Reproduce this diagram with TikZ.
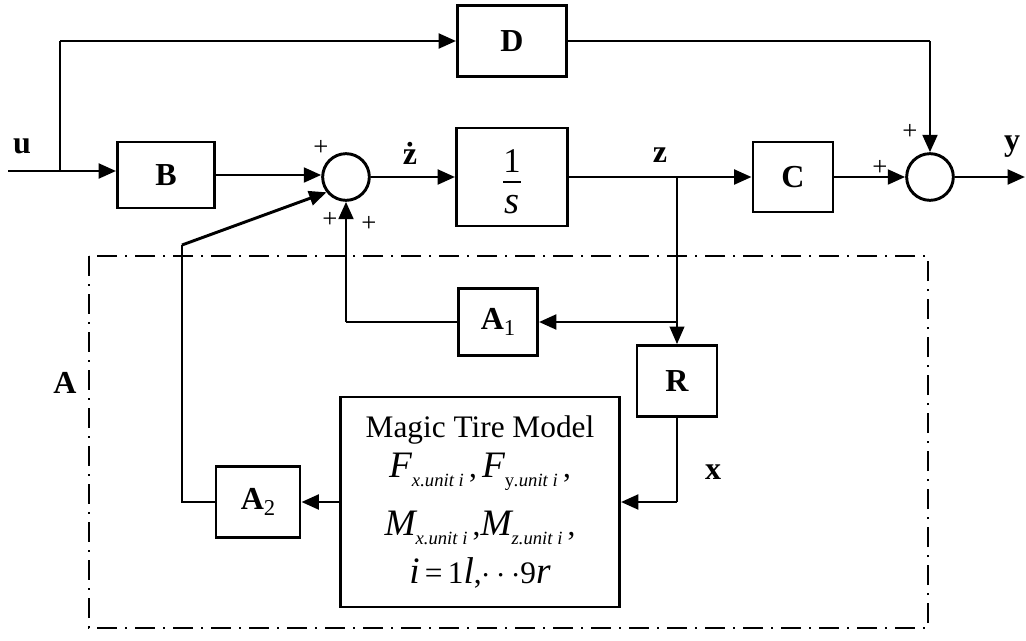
\documentclass[tikz,border=0pt]{standalone}
\usepackage{fontspec}
\setmainfont{Liberation Serif}
\usetikzlibrary{arrows.meta}

% subscript set lower and smaller, in italic
\newcommand{\lowsub}[1]{\raisebox{-7pt}{\fontsize{14}{16}\selectfont\itshape #1}}
\newcommand{\bigit}[1]{{\fontsize{28}{30}\selectfont\itshape #1}}

\begin{document}
\begin{tikzpicture}[x=0.75pt,y=-0.75pt,
  blk/.style={draw,line width=2.2pt,rectangle,inner sep=0pt,
              font=\fontsize{24}{28}\selectfont\bfseries},
  sumn/.style={draw,line width=2.2pt,circle,minimum size=35pt,inner sep=0pt},
  thk/.style={line width=2.2pt},
  thn/.style={line width=1.1pt},
  arr/.style={-{Triangle[length=13pt,width=11pt]}},
  sig/.style={font=\fontsize{24}{28}\selectfont\bfseries,inner sep=0pt},
  pls/.style={font=\fontsize{20}{22}\selectfont,inner sep=0pt},
  dashdot/.style={line width=2.1pt,dash pattern=on 15pt off 6pt on 1.5pt off 6pt}
]
\useasboundingbox (0,0) rectangle (1026,640);

% blocks
\node[blk,minimum width=81.75pt,minimum height=53.25pt] (D) at (512,41) {D};
\node[blk,minimum width=72.75pt,minimum height=49.5pt] (B) at (166,175) {B};
\node[sumn] (s1) at (346,177) {};
\node[blk,minimum width=83.25pt,minimum height=73.5pt] (I) at (512,177) {};
\node[blk,minimum width=60pt,minimum height=52.5pt] (C) at (793,177) {C};
\node[sumn] (s2) at (930,177) {};
\node[blk,minimum width=59.25pt,minimum height=50.25pt] (A1) at (498,322)
  {A{\mdseries\fontsize{17}{19}\selectfont\raisebox{-5pt}{1}}};
\node[blk,minimum width=60pt,minimum height=53.25pt] (R) at (677,381) {R};
\node[blk,minimum width=63pt,minimum height=53.25pt] (A2) at (258,502)
  {A{\mdseries\fontsize{17}{19}\selectfont\raisebox{-5pt}{2}}};
\node[blk,minimum width=209.25pt,minimum height=157.5pt,align=center,
      font=\fontsize{23.5}{28}\selectfont] (M) at (480,502)
  {Magic Tire Model\\[2pt]
   \bigit{F}\lowsub{x.unit i}\,,\,\bigit{F}\lowsub{\upshape y\itshape.unit i}\,,\\[14pt]
   \bigit{M}\lowsub{x.unit i}\,,\bigit{M}\lowsub{z.unit i}\,,\\[8pt]
   \bigit{i}\,=\,1\bigit{l},$\cdots$9\bigit{r}};

% fraction 1/s inside the integrator
\node[inner sep=0pt,font=\fontsize{26}{28}\selectfont] (one) at (512,161) {1};
\node[inner sep=0pt,font=\fontsize{29}{31}\selectfont\itshape] (ess) at (512,205) {s};
\draw[line width=1.4pt] (503,182) -- (521,182);

% dash-dot frame of subsystem A
\draw[dashdot] (89,256) rectangle (928,628);

% helper points
\coordinate (uin) at (8,171);
\coordinate (ub) at (60,171);
\coordinate (uc) at (60,41);
\coordinate (zb) at (677,177);
\coordinate (fb) at (182,245);
\coordinate (yout) at (1025,177);

% forward path
\draw[thk,arr] (uin) -- (B.west |- uin);
\draw[thn] (ub) -- (uc);
\draw[thk,arr] (uc) -- (D.west);
\draw[thk,arr] (B.east) -- (B.east -| s1.west);
\draw[thk,arr] (s1.east) -- (I.west);
\draw[thk,arr] (I.east) -- (C.west);
\draw[thk,arr] (C.east) -- (s2.west);
\draw[thk,arr] (s2.east) -- (yout);
\draw[thn] (D.east) -- (D.east -| s2.north);
\draw[thk,arr] (D.east -| s2.north) -- (s2.north);

% feedback through A
\draw[thn,arr] (zb) -- (R.north);
\draw[thk,arr] (R.north |- A1.east) -- (A1.east);
\draw[thn] (A1.west) -- (A1.west -| s1.south);
\draw[thk,arr] (A1.west -| s1.south) -- (s1.south);
\draw[thn] (R.south) -- (R.south |- M.east);
\draw[thk,arr] (R.south |- M.east) -- (M.east);
\draw[thk,arr] (M.west) -- (A2.east);
\draw[thn] (A2.west) -- (A2.west -| fb) -- (fb);
\draw[thk,arr] (fb) -- (s1.218);

% signal names
\node[sig] (lu) at (22,146) {u};
\node[sig] (lzd) at (410,153) {\.z};
\node[sig] (lz) at (660,155) {z};
\node[sig] (ly) at (1012,147) {y};
\node[sig] (lx) at (713,472) {x};
\node[sig] (lA) at (65,383) {A};

% signs at the summing junctions
\node[pls] (p1) at (321,148) {+};
\node[pls] (p2) at (330,220) {+};
\node[pls] (p3) at (369,224) {+};
\node[pls] (p4) at (880,168) {+};
\node[pls] (p5) at (910,132) {+};
\end{tikzpicture}
\end{document}
